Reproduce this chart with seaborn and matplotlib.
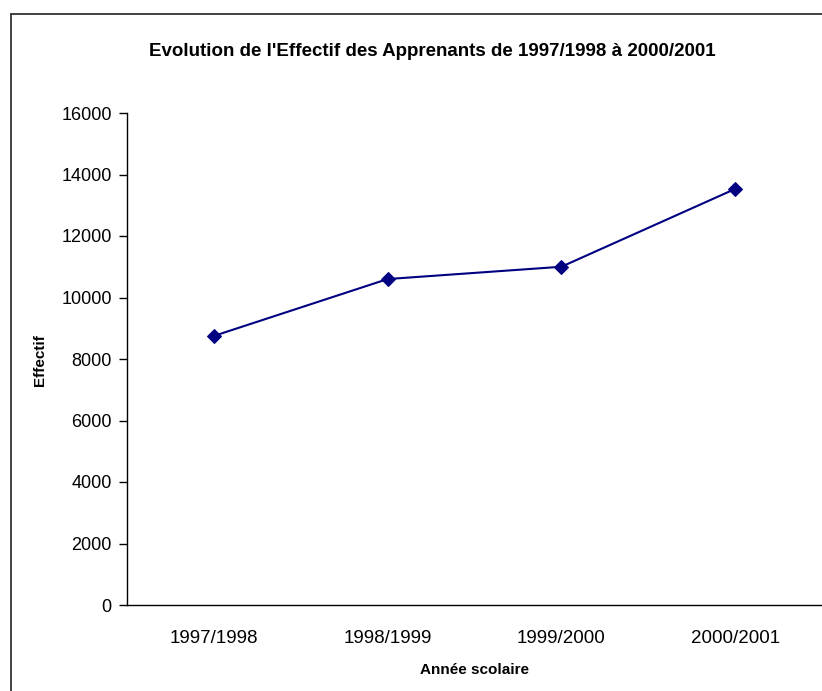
import pandas as pd
import numpy as np
import matplotlib
matplotlib.use('Agg')
import matplotlib.pyplot as plt
from matplotlib.lines import Line2D
import seaborn as sns

# values
annees = ['1997/1998', '1998/1999', '1999/2000', '2000/2001']
effectifs = [8750, 10600, 11000, 13530]
y_ticks = [0, 2000, 4000, 6000, 8000, 10000, 12000, 14000, 16000]

data = pd.DataFrame({'Annee': annees, 'Effectif': effectifs})

sns.set_style('white')
plt.rcParams['font.family'] = ['Liberation Sans', 'DejaVu Sans']
plt.rcParams['text.color'] = 'black'
plt.rcParams['xtick.color'] = 'black'
plt.rcParams['ytick.color'] = 'black'

fig = plt.figure(figsize=(8.22, 6.91), dpi=100)
ax = fig.add_axes([127 / 822, 1 - 605 / 691, 1 - 127 / 822, (605 - 113) / 691])

sns.lineplot(data=data, x='Annee', y='Effectif', ax=ax, color='#000080',
             linewidth=1.5, marker='D', markersize=7, markeredgecolor='#000080')

ax.set_xlim(-0.5, 3.5)
ax.set_ylim(0, 16000)
ax.set_yticks(y_ticks)
ax.set_yticklabels([str(v) for v in y_ticks], fontsize=13)
ax.set_xticks(range(len(annees)))
ax.set_xticklabels(annees, fontsize=13.5)
ax.set_xticks(np.arange(-0.5, 4, 1), minor=True)
ax.tick_params(axis='x', which='major', length=0, pad=18)
ax.tick_params(axis='x', which='minor', length=6, width=1, color='black', direction='out')
ax.tick_params(axis='y', length=6, width=1, color='black', direction='out', pad=5, left=True)

ax.set_xlabel('')
ax.set_ylabel('')
for side in ['top', 'right']:
    ax.spines[side].set_visible(False)
for side in ['left', 'bottom']:
    ax.spines[side].set_color('black')
    ax.spines[side].set_linewidth(1)

fig.text(432 / 822, 1 - 52 / 691, "Evolution de l'Effectif des Apprenants de 1997/1998 à 2000/2001",
         ha='center', va='center', fontsize=13.5, fontweight='bold')
fig.text(40 / 822, 1 - 360 / 691, 'Effectif', rotation=90,
         ha='center', va='center', fontsize=11, fontweight='bold')
fig.text(474 / 822, 1 - 670 / 691, 'Année scolaire',
         ha='center', va='center', fontsize=11, fontweight='bold')

# chart area border (cut off on the right and bottom)
fig.add_artist(Line2D([11 / 822, 11 / 822], [0, 1 - 14 / 691], transform=fig.transFigure,
                      color='#333333', linewidth=1.3))
fig.add_artist(Line2D([11 / 822, 1], [1 - 14 / 691, 1 - 14 / 691], transform=fig.transFigure,
                      color='#333333', linewidth=1.3))

fig.savefig('out.png', dpi=100)
